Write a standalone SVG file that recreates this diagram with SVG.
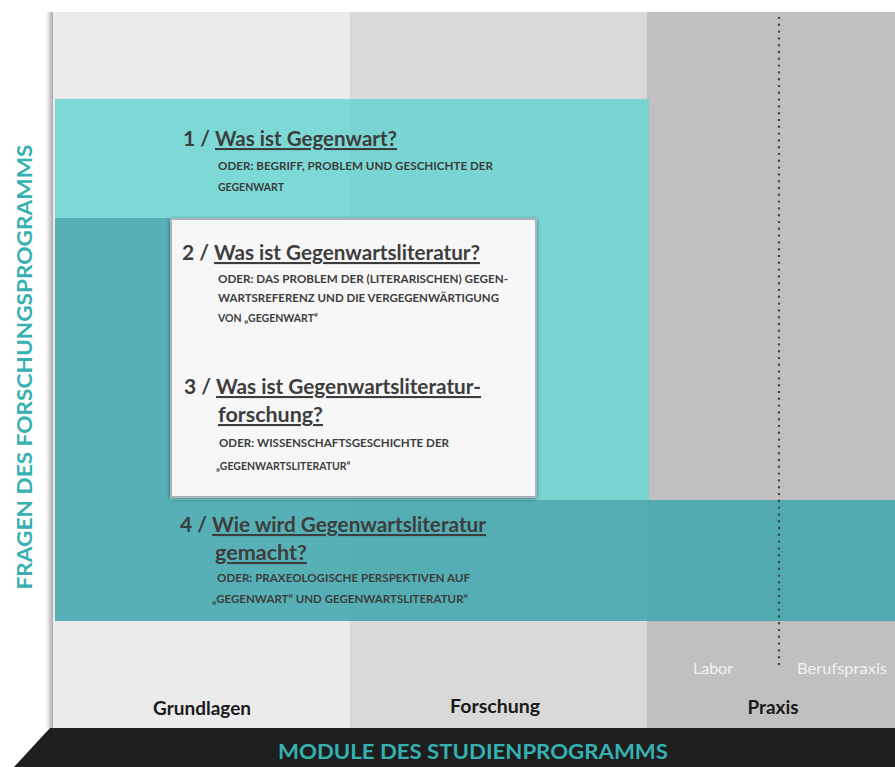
<svg xmlns="http://www.w3.org/2000/svg" width="895" height="767" viewBox="0 0 895 767">
<defs>
<style>
.h{font-family:Lato,"Noto Sans",sans-serif;font-weight:bold;font-size:21px;fill:#3d3d3d}
.u{text-decoration:underline}
.s{font-family:Lato,"Noto Sans",sans-serif;font-weight:bold;font-size:10.5px;fill:#3d3d3d}
.col{font-family:Lato,"Noto Sans",sans-serif;font-weight:bold;font-size:18px;fill:#1a1a1a;text-anchor:middle}
.sub{font-family:Lato,"Noto Sans",sans-serif;font-size:15px;fill:#f2f2f2;text-anchor:middle}
.ax{font-family:Lato,"Noto Sans",sans-serif;font-weight:bold;font-size:20px;fill:#35b1b1;text-anchor:middle}
</style>
<filter id="sh" x="-10%" y="-10%" width="120%" height="120%">
<feGaussianBlur in="SourceAlpha" stdDeviation="2"/>
<feOffset dx="0" dy="1"/>
<feComponentTransfer><feFuncA type="linear" slope="0.4"/></feComponentTransfer>
<feMerge><feMergeNode/><feMergeNode in="SourceGraphic"/></feMerge>
</filter>
<linearGradient id="ls" x1="0" x2="1" y1="0" y2="0">
<stop offset="0" stop-color="#ffffff"/>
<stop offset="1" stop-color="#a8a8a8"/>
</linearGradient>
</defs>
<rect width="895" height="767" fill="#ffffff"/>
<g id="columns">
<rect x="46" y="12" width="7" height="716" fill="url(#ls)"/>
<rect x="53" y="12" width="297" height="716" fill="#ebebeb"/>
<rect x="350" y="12" width="297" height="716" fill="#d9d9d9"/>
<rect x="647" y="12" width="248" height="716" fill="#c0c0c0"/>
</g>
<g id="bands">
<path d="M55 99 H649 V500 H170 V218 H55 Z" fill="rgb(100,212,209)" fill-opacity="0.82"/>
<path d="M55 218 H170 V500 H895 V621 H55 Z" fill="rgb(62,166,173)" fill-opacity="0.86"/>
</g>
<g id="box">
<rect x="171" y="219" width="365" height="278" fill="#f7f7f7" stroke="#aab3bc" stroke-width="2" filter="url(#sh)"/>
</g>
<g id="connectors">
<line x1="779" y1="18" x2="779" y2="666" stroke="#444" stroke-width="2.4" stroke-linecap="round" stroke-dasharray="0 6.8"/>
</g>
<g id="q1">
<text class="h" x="183" y="146">1 / <tspan class="u" textLength="182" lengthAdjust="spacingAndGlyphs">Was ist Gegenwart?</tspan></text>
<text class="s" x="218" y="170" textLength="275" lengthAdjust="spacingAndGlyphs">ODER: BEGRIFF, PROBLEM UND GESCHICHTE DER</text>
<text class="s" x="218" y="191">GEGENWART</text>
</g>
<g id="q2">
<text class="h" x="182" y="260">2 / <tspan class="u" textLength="266" lengthAdjust="spacingAndGlyphs">Was ist Gegenwartsliteratur?</tspan></text>
<text class="s" x="218" y="283" textLength="290" lengthAdjust="spacingAndGlyphs">ODER: DAS PROBLEM DER (LITERARISCHEN) GEGEN-</text>
<text class="s" x="218" y="302" textLength="281" lengthAdjust="spacingAndGlyphs">WARTSREFERENZ UND DIE VERGEGENWÄRTIGUNG</text>
<text class="s" x="218" y="322">VON „GEGENWART“</text>
</g>
<g id="q3">
<text class="h" x="184" y="394">3 / <tspan class="u" textLength="265" lengthAdjust="spacingAndGlyphs">Was ist Gegenwartsliteratur-</tspan></text>
<text class="h u" x="218" y="422" textLength="105" lengthAdjust="spacingAndGlyphs">forschung?</text>
<text class="s" x="219" y="447" textLength="230" lengthAdjust="spacingAndGlyphs">ODER: WISSENSCHAFTSGESCHICHTE DER</text>
<text class="s" x="216" y="470">„GEGENWARTSLITERATUR“</text>
</g>
<g id="q4">
<text class="h" x="180" y="532">4 / <tspan class="u" textLength="274" lengthAdjust="spacingAndGlyphs">Wie wird Gegenwartsliteratur</tspan></text>
<text class="h u" x="215" y="560" textLength="92" lengthAdjust="spacingAndGlyphs">gemacht?</text>
<text class="s" x="217" y="582" textLength="253" lengthAdjust="spacingAndGlyphs">ODER: PRAXEOLOGISCHE PERSPEKTIVEN AUF</text>
<text class="s" x="212" y="603" textLength="256" lengthAdjust="spacingAndGlyphs">„GEGENWART“ UND GEGENWARTSLITERATUR“</text>
</g>
<g id="labels">
<text class="col" x="202" y="715" textLength="98" lengthAdjust="spacingAndGlyphs">Grundlagen</text>
<text class="col" x="495" y="713" textLength="90" lengthAdjust="spacingAndGlyphs">Forschung</text>
<text class="col" x="773" y="714" textLength="51" lengthAdjust="spacingAndGlyphs">Praxis</text>
<text class="sub" x="713" y="674" textLength="40" lengthAdjust="spacingAndGlyphs">Labor</text>
<text class="sub" x="842" y="674" textLength="90" lengthAdjust="spacingAndGlyphs">Berufspraxis</text>
</g>
<g id="axes">
<path d="M50 728 H895 V767 H14 Z" fill="#1e1e1e"/>
<text class="ax" x="473" y="759" textLength="390" lengthAdjust="spacingAndGlyphs">MODULE DES STUDIENPROGRAMMS</text>
<text class="ax" transform="translate(32,367) rotate(-90)" x="0" y="0" textLength="445" lengthAdjust="spacingAndGlyphs">FRAGEN DES FORSCHUNGSPROGRAMMS</text>
</g>
</svg>
